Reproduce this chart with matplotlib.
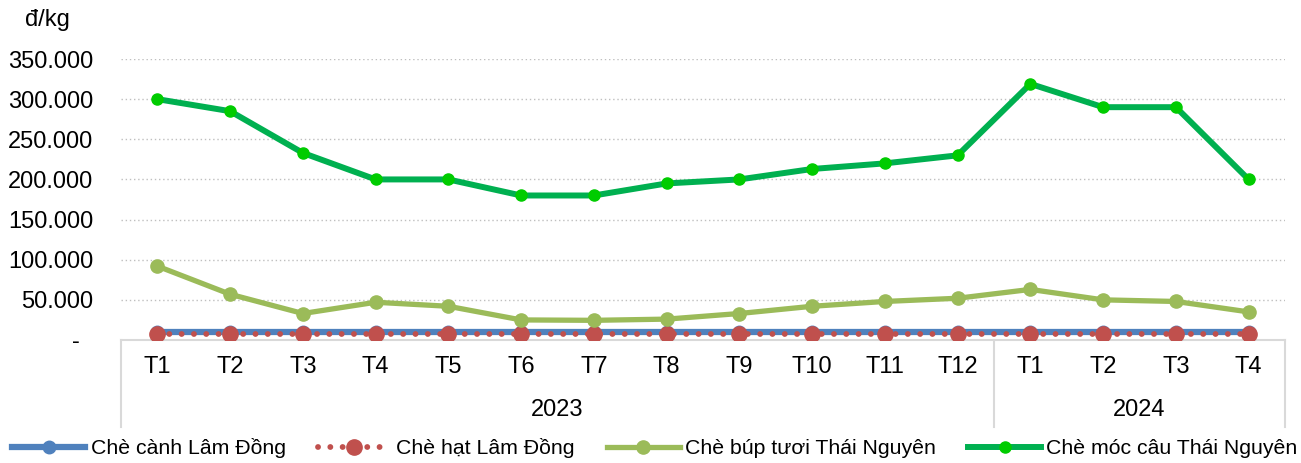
import matplotlib
matplotlib.use("Agg")
import matplotlib.pyplot as plt
from matplotlib.lines import Line2D

plt.rcParams['font.family'] = ['Liberation Sans', 'DejaVu Sans']

months = ["T1", "T2", "T3", "T4", "T5", "T6", "T7", "T8", "T9", "T10", "T11", "T12",
          "T1", "T2", "T3", "T4"]
years = ["2023", "2024"]
year_counts = [12, 4]

che_canh_lam_dong = [10000] * 16
che_hat_lam_dong = [7000] * 16
che_bup_tuoi_tn = [92000, 57000, 33000, 47000, 42000, 25000, 24500, 26000, 33000, 42000,
                   48000, 52000, 63000, 50000, 48000, 35000]
che_moc_cau_tn = [300000, 285000, 233000, 200000, 200000, 180000, 180000, 195000, 200000,
                  213000, 220000, 230000, 319000, 290000, 290000, 200000]

yticks = [0, 50000, 100000, 150000, 200000, 250000, 300000, 350000]
ytick_labels = ["-  ", "50.000", "100.000", "150.000", "200.000", "250.000", "300.000", "350.000"]

FS = 17

fig = plt.figure(figsize=(13.01, 4.63), dpi=100)
ax = fig.add_axes([121/1301, 1-340/463, (1285-121)/1301, (340-59)/463])

x = list(range(len(months)))
ax.plot(x, che_canh_lam_dong, color="#4F81BD", lw=4.5, marker="o", ms=9,
        label="Chè cành Lâm Đồng", zorder=3)
ax.plot(x, che_hat_lam_dong, color="#C0504D", lw=4.2, linestyle=(0, (0.01, 2.1)),
        dash_capstyle="round", marker="o", ms=11, label="Chè hạt Lâm Đồng", zorder=4)
ax.plot(x, che_bup_tuoi_tn, color="#9BBB59", lw=3.8, marker="o", ms=9.5,
        label="Chè búp tươi Thái Nguyên", zorder=5)
ax.plot(x, che_moc_cau_tn, color="#00B050", lw=4.3, marker="o", ms=8,
        markerfacecolor="#00CC00", markeredgecolor="#00CC00",
        label="Chè móc câu Thái Nguyên", zorder=6)

ax.set_xlim(-0.5, len(months) - 0.5)
ax.set_ylim(0, 350000)
ax.set_yticks(yticks)
ax.set_yticklabels(ytick_labels, fontsize=FS)
ax.tick_params(axis="y", length=0, pad=20)
ax.grid(axis="y", color="#BFBFBF", linestyle=(0, (1, 2)), lw=1)
ax.set_axisbelow(True)
for s in ["left", "right", "top"]:
    ax.spines[s].set_visible(False)
ax.spines["bottom"].set_color("#D9D9D9")
ax.spines["bottom"].set_linewidth(1.5)

ax.set_xticks([])
trans = ax.get_xaxis_transform()
for i, m in enumerate(months):
    ax.text(i, -0.096, m, transform=trans, ha="center", va="center", fontsize=FS)

start = -0.5
bounds = [start]
for yr, n in zip(years, year_counts):
    mid = start + n / 2
    ax.text(mid, -0.249, yr, transform=trans, ha="center", va="center", fontsize=FS)
    start += n
    bounds.append(start)
for b in bounds:
    ax.add_line(Line2D([b, b], [0, -0.31], transform=trans, color="#D9D9D9",
                       lw=1.5, clip_on=False))

fig.text(25/1301, 1-20/463, "đ/kg", fontsize=FS, ha="left", va="center")

handles, labels = ax.get_legend_handles_labels()
fig.legend(handles, labels, loc="center left", bbox_to_anchor=(12/1301, 1-448/463), ncol=4,
           frameon=False, fontsize=15.3, handlelength=3.45, columnspacing=1.5,
           handletextpad=0.25, borderpad=0, borderaxespad=0)

fig.savefig("out.png", dpi=100)
